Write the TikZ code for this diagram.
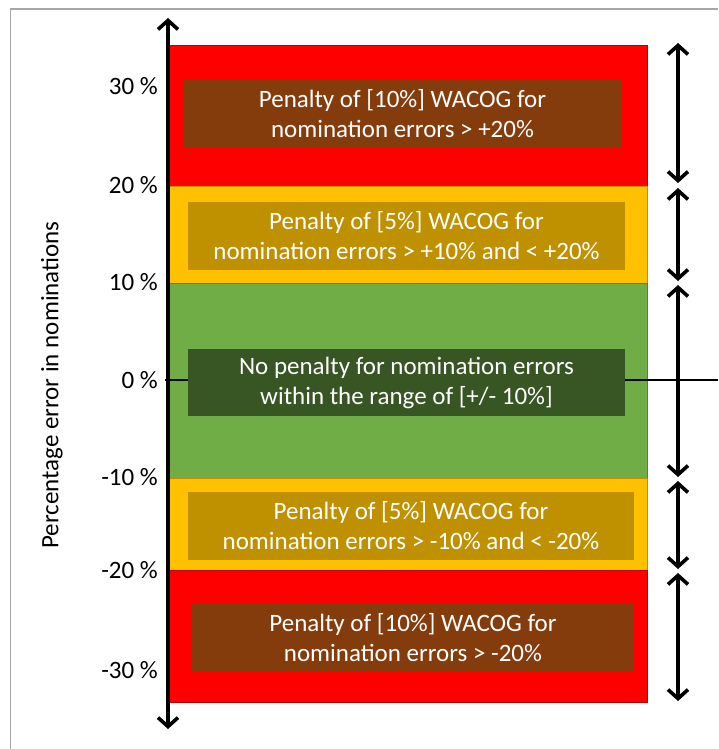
\documentclass[tikz,border=0pt]{standalone}
\usepackage{fontspec}
\setmainfont{Carlito}
\usetikzlibrary{arrows.meta}
\definecolor{bandred}{HTML}{FF0000}
\definecolor{bandyellow}{HTML}{FFC000}
\definecolor{bandgreen}{HTML}{70AD47}
\definecolor{boxbrown}{HTML}{843C0C}
\definecolor{boxgold}{HTML}{BF9000}
\definecolor{boxgreen}{HTML}{375623}
\definecolor{framegray}{HTML}{A6A6A6}

\begin{document}
\begin{tikzpicture}[x=1pt,y=-1pt,
    band/.style={draw=#1!75!black, line width=0.6pt, fill=#1},
    msgbox/.style={fill=#1, text=white, align=center, inner sep=0pt,
        font=\fontsize{25}{30}\selectfont},
    ticklabel/.style={anchor=east, inner sep=0pt, font=\fontsize{25}{28}\selectfont},
    axisline/.style={line width=3.6pt, {Straight Barb[length=9pt,width=20pt]}-{Straight Barb[length=9pt,width=20pt]}}]
            \useasboundingbox (0,0) rectangle (718,749);
            % frame
            \draw[framegray, line width=1.8pt] (10.5,749) -- (10.5,9) -- (718,9);

            % bands
            \draw[band=bandred]    (169,45)  rectangle (647,186);
            \draw[band=bandyellow] (169,186) rectangle (647,283);
            \draw[band=bandgreen]  (169,283) rectangle (647,478);
            \draw[band=bandyellow] (169,478) rectangle (647,570);
            \draw[band=bandred]    (169,570) rectangle (647,702);

            % zero line
            \coordinate (zl) at (165,380);
            \coordinate (zr) at (718,380);
            \draw[line width=2.6pt] (zl) -- (zr);

            % messages
            \node[msgbox=boxbrown, minimum width=437pt, minimum height=67pt] (pen10up) at (402.5,113.5)
                {Penalty of [10\%] WACOG for \\ nomination errors > +20\%};
            \node[msgbox=boxgold, minimum width=437pt, minimum height=68pt] (pen5up) at (406.5,236)
                {Penalty of [5\%] WACOG for \\ nomination errors > +10\% and < +20\%};
            \node[msgbox=boxgreen, minimum width=437pt, minimum height=67pt] (nopen) at (406.5,382.5)
                {No penalty for nomination errors \\ within the range of [+/- 10\%]};
            \node[msgbox=boxgold, minimum width=446pt, minimum height=68pt] (pen5dn) at (411,526)
                {Penalty of [5\%] WACOG for \\ nomination errors > -10\% and < -20\%};
            \node[msgbox=boxbrown, minimum width=442pt, minimum height=67pt] (pen10dn) at (413,637.5)
                {Penalty of [10\%] WACOG for \\ nomination errors > -20\%};

            % vertical axis
            \coordinate (ybot) at (168,729);
            \coordinate (ytop) at (168,18);
            \draw[axisline] (ybot) -- (ytop);

            \foreach \lab/\y in {30/86, 20/185, 10/282, 0/380, -10/477, -20/570, -30/670}
                \node[ticklabel] (tick\lab) at (158,\y) {\lab~\%};

            \node[rotate=90, inner sep=0pt, font=\fontsize{25}{28}\selectfont] (ytitle) at (52,385)
                {Percentage error in nominations};

            % right side ranges
            \foreach \i/\a/\b in {1/43/183, 2/188/281, 3/285/477, 4/481/569, 5/573/701} {
                \coordinate (rt\i) at (678,\a);
                \coordinate (rb\i) at (678,\b);
                \draw[axisline] (rt\i) -- (rb\i);
            }
        \end{tikzpicture}
\end{document}
